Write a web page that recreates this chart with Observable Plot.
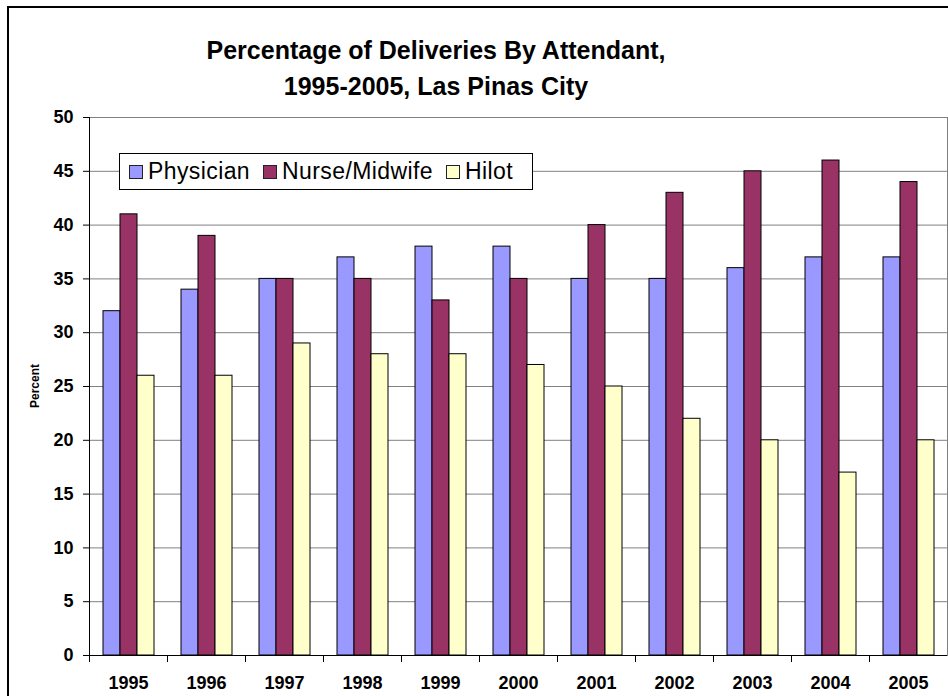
<!DOCTYPE html>
<html>
<head>
<meta charset="utf-8">
<script src="https://cdn.jsdelivr.net/npm/d3@7"></script>
<script src="https://cdn.jsdelivr.net/npm/@observablehq/plot@0.6"></script>
<style>
  html, body { margin: 0; padding: 0; background: #fff; overflow: hidden; }
  #wrap { position: relative; width: 948px; height: 696px; font-family: Arial, "Liberation Sans", sans-serif; }
  #border { position: absolute; left: 7px; top: 6px; width: 1000px; height: 800px; border: 2px solid #000; box-sizing: border-box; }
  #title { position: absolute; left: 0; top: 32px; width: 872px; text-align: center; font-weight: bold; font-size: 25px; line-height: 36px; color: #000; }
  #ylabel { position: absolute; left: 35px; top: 386px; transform: translate(-50%, -50%) rotate(-90deg); font-size: 12px; font-weight: bold; white-space: nowrap; }
  #legend { position: absolute; left: 119px; top: 153px; width: 414px; height: 37px; box-sizing: border-box; border: 1px solid #000; background: #fff; display: flex; align-items: center; padding-left: 9px; font-size: 23px; letter-spacing: 0.4px; }
  .item { display: flex; align-items: center; margin-right: 13px; }
  .sw { width: 14px; height: 14px; box-sizing: border-box; border: 1px solid #222; margin-right: 5px; }
  #chart { position: absolute; left: 0; top: 0; }
</style>
</head>
<body>
<div id="wrap">
  <div id="border"></div>
  <div id="chart"></div>
  <div id="title">Percentage of Deliveries By Attendant,<br>1995-2005, Las Pinas City</div>
  <div id="ylabel">Percent</div>
  <div id="legend"></div>
</div>
<script>
const years = ["1995","1996","1997","1998","1999","2000","2001","2002","2003","2004","2005"];
const series = ["Physician","Nurse/Midwife","Hilot"];
const physician = [32, 34, 35, 37, 38, 38, 35, 35, 36, 37, 37];
const nurseMidwife = [41, 39, 35, 35, 33, 35, 40, 43, 45, 46, 44];
const hilot = [26, 26, 29, 28, 28, 27, 25, 22, 20, 17, 20];
const colors = ["#9999FF", "#993366", "#FFFFCC"];
const yTicks = [0, 5, 10, 15, 20, 25, 30, 35, 40, 45, 50];

const valuesBySeries = [physician, nurseMidwife, hilot];
const data = years.flatMap((yr, i) => series.map((s, k) => ({year: yr, series: s, value: valuesBySeries[k][i]})));

const chart = Plot.plot({
  width: 948,
  height: 696,
  marginLeft: 88,
  marginRight: 1,
  marginTop: 117,
  marginBottom: 41,
  style: {background: "transparent", color: "#000", fontFamily: "Arial, 'Liberation Sans', sans-serif", fontSize: "18px", fontWeight: "bold"},
  fx: {domain: years, padding: 0, label: null, tickSize: 0, tickPadding: 21},
  x: {domain: series, paddingInner: 0, paddingOuter: 0.755, axis: null},
  y: {domain: [0, 50], label: null},
  color: {domain: series, range: colors},
  marks: [
    Plot.gridY(yTicks, {stroke: "#808080", strokeOpacity: 1}),
    Plot.frame({anchor: "right", facetAnchor: "right", stroke: "#808080"}),
    Plot.frame({anchor: "left", insetTop: 538, insetBottom: -6, stroke: "#000"}),
    Plot.barY(data, {fx: "year", x: "series", y: "value", fill: "series", stroke: "#000", strokeWidth: 1}),
    Plot.ruleY([0], {stroke: "#000"}),
    Plot.frame({anchor: "left", facetAnchor: "left", stroke: "#000"}),
    Plot.axisY(yTicks, {anchor: "left", tickSize: 6, tickPadding: 10, stroke: "#000", label: null})
  ]
});
document.getElementById("chart").appendChild(chart);

const legend = document.getElementById("legend");
series.forEach((s, k) => {
  const item = document.createElement("div");
  item.className = "item";
  const sw = document.createElement("div");
  sw.className = "sw";
  sw.style.background = colors[k];
  const t = document.createElement("span");
  t.textContent = s;
  item.appendChild(sw);
  item.appendChild(t);
  legend.appendChild(item);
});
</script>
</body>
</html>
